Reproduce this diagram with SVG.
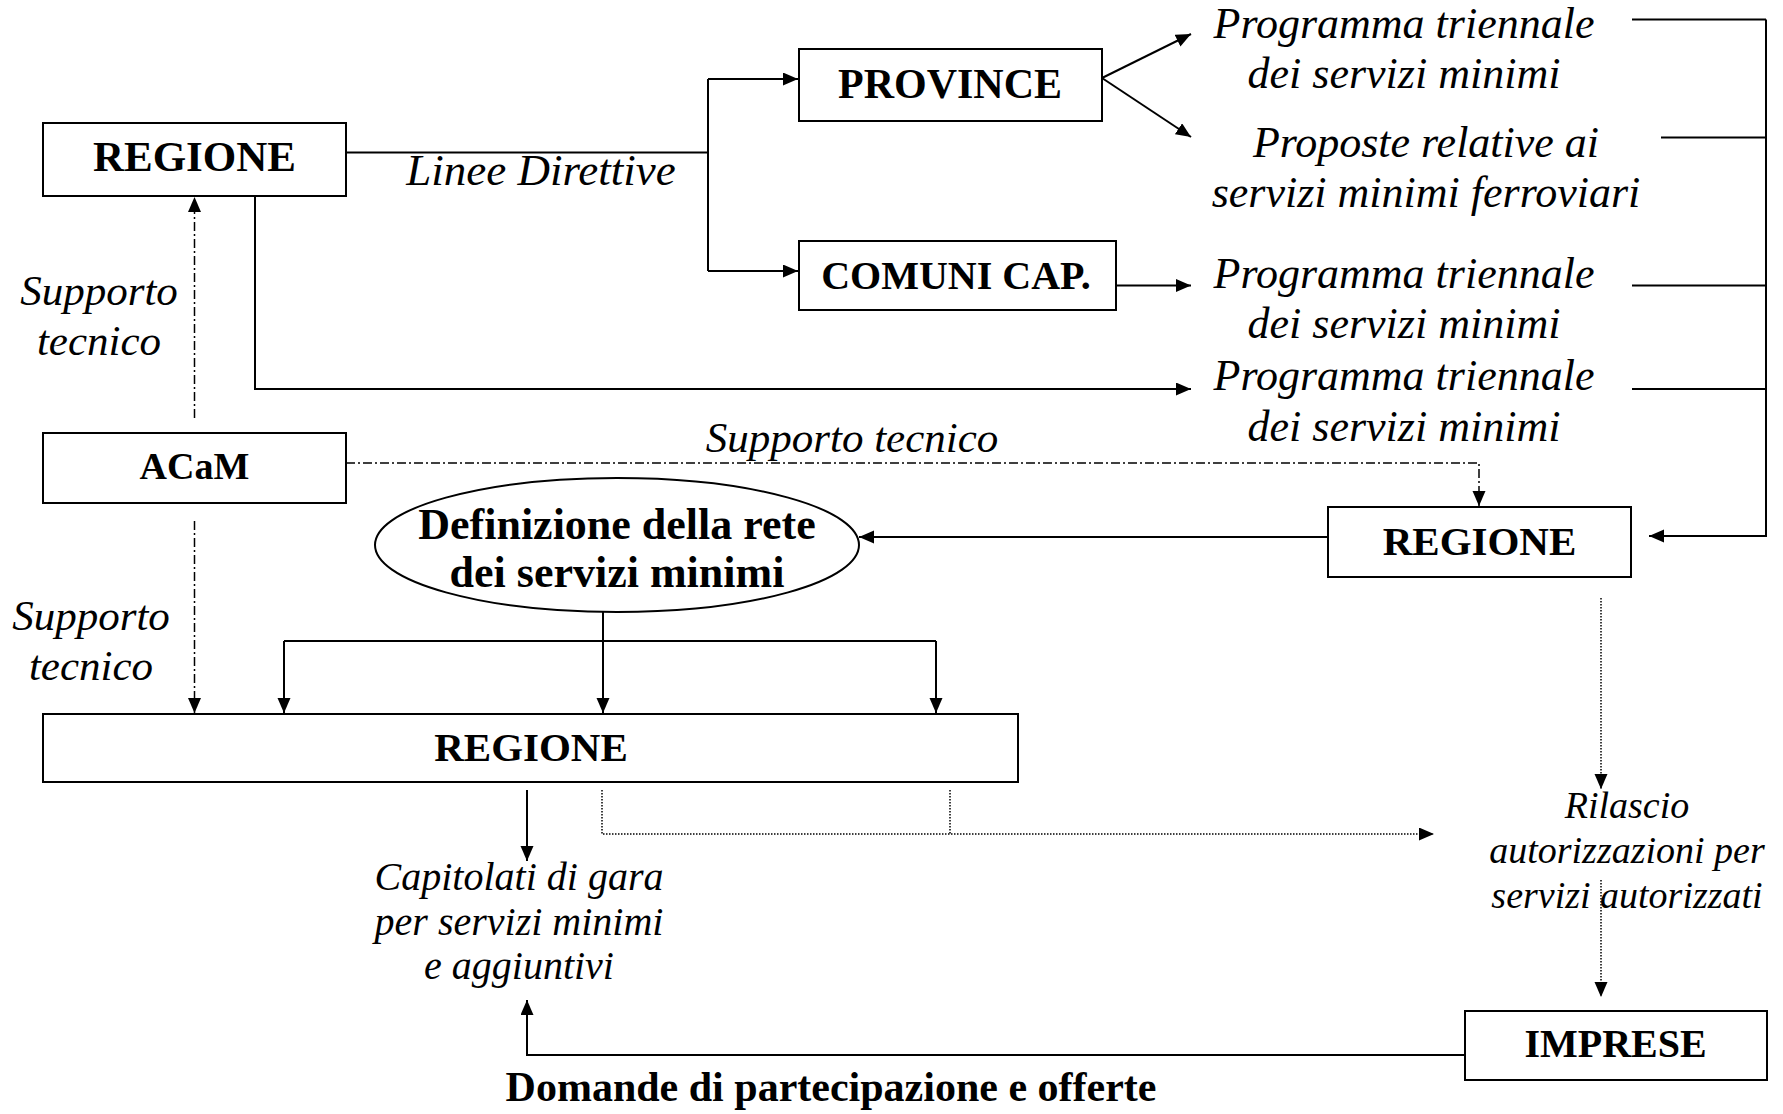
<svg xmlns="http://www.w3.org/2000/svg" width="1783" height="1114" viewBox="0 0 1783 1114">
<style>
  .box { fill: #fff; stroke: #000; stroke-width: 2; }
  .b { font-family: "Liberation Serif", "Times New Roman", serif; font-weight: bold; text-anchor: middle; fill: #000; }
  .i { font-family: "Liberation Serif", "Times New Roman", serif; font-style: italic; text-anchor: middle; fill: #000; }
  .ln { fill: none; stroke: #000; stroke-width: 2; }
  .dd { fill: none; stroke: #000; stroke-width: 1.5; stroke-dasharray: 9 3 2 3; }
  .dt { fill: none; stroke: #000; stroke-width: 1.5; stroke-dasharray: 1.5 1.5; }
</style>
<defs>
  <marker id="ah" markerUnits="userSpaceOnUse" markerWidth="16" markerHeight="14" refX="15" refY="6.5" orient="auto">
    <path d="M0,0 L15,6.5 L0,13 z" fill="#000"/>
  </marker>
</defs>
<rect width="1783" height="1114" fill="#fff"/>

<g id="connectors">
  <path class="ln" d="M346,152.5 H708 M708,79 V271"/>
  <path class="ln" d="M708,79 H798" marker-end="url(#ah)"/>
  <path class="ln" d="M708,271 H798" marker-end="url(#ah)"/>
  <path class="ln" d="M1102,78 L1191,34" marker-end="url(#ah)"/>
  <path class="ln" d="M1102,78 L1191,137" marker-end="url(#ah)"/>
  <path class="ln" d="M1116,285.5 H1191" marker-end="url(#ah)"/>
  <path class="ln" d="M255,196 V389 H1191" marker-end="url(#ah)"/>
  <path class="ln" d="M1632,19.5 H1766 M1661,137.5 H1766 M1632,285.5 H1766 M1632,389 H1766"/>
  <path class="ln" d="M1766,19.5 V536 H1649" marker-end="url(#ah)"/>
  <path class="ln" d="M1328,537 H859" marker-end="url(#ah)"/>
  <path class="dd" d="M194.5,418 V197" marker-end="url(#ah)"/>
  <path class="dd" d="M346,463 H1479 V506" marker-end="url(#ah)"/>
  <path class="dd" d="M194.5,521 V713" marker-end="url(#ah)"/>
  <path class="ln" d="M603,612 V713" marker-end="url(#ah)"/>
  <path class="ln" d="M284,641 H936"/>
  <path class="ln" d="M284,641 V713" marker-end="url(#ah)"/>
  <path class="ln" d="M936,641 V713" marker-end="url(#ah)"/>
  <path class="ln" d="M527,790 V861" marker-end="url(#ah)"/>
  <path class="dt" d="M602,790 V834 H1434" marker-end="url(#ah)"/>
  <path class="dt" d="M950,790 V834"/>
  <path class="dt" d="M1601,598 V789" marker-end="url(#ah)"/>
  <path class="dt" d="M1601,880 V997" marker-end="url(#ah)"/>
  <path class="ln" d="M1465,1055 H527 V1000" marker-end="url(#ah)"/>
</g>

<g id="regione-top">
  <rect class="box" x="43" y="123" width="303" height="73"/>
  <text class="b" x="194.5" y="171" font-size="43">REGIONE</text>
</g>
<g id="province">
  <rect class="box" x="799" y="49" width="303" height="72"/>
  <text class="b" x="950" y="98" font-size="42">PROVINCE</text>
</g>
<g id="comuni">
  <rect class="box" x="799" y="241" width="317" height="69"/>
  <text class="b" x="956" y="289" font-size="40">COMUNI CAP.</text>
</g>
<g id="acam">
  <rect class="box" x="43" y="433" width="303" height="70"/>
  <text class="b" x="194.5" y="479" font-size="38">ACaM</text>
</g>
<g id="regione-right">
  <rect class="box" x="1328" y="507" width="303" height="70"/>
  <text class="b" x="1479.5" y="555" font-size="41">REGIONE</text>
</g>
<g id="definizione">
  <ellipse class="box" cx="617" cy="545" rx="242" ry="67"/>
  <text class="b" x="617" y="539" font-size="44">Definizione della rete</text>
  <text class="b" x="617" y="587" font-size="44">dei servizi minimi</text>
</g>
<g id="regione-bottom">
  <rect class="box" x="43" y="714" width="975" height="68"/>
  <text class="b" x="531" y="761" font-size="41">REGIONE</text>
</g>
<g id="imprese">
  <rect class="box" x="1465" y="1011" width="302" height="69"/>
  <text class="b" x="1615.5" y="1057" font-size="40">IMPRESE</text>
</g>

<g id="labels">
  <text class="i" x="541" y="185" font-size="45">Linee Direttive</text>
  <text class="i" x="1404" y="37.5" font-size="44">Programma triennale</text>
  <text class="i" x="1404" y="87.5" font-size="44">dei servizi minimi</text>
  <text class="i" x="1426" y="157" font-size="44">Proposte relative ai</text>
  <text class="i" x="1426" y="207" font-size="44">servizi minimi ferroviari</text>
  <text class="i" x="1404" y="288" font-size="44">Programma triennale</text>
  <text class="i" x="1404" y="338" font-size="44">dei servizi minimi</text>
  <text class="i" x="1404" y="390" font-size="44">Programma triennale</text>
  <text class="i" x="1404" y="441" font-size="44">dei servizi minimi</text>
  <text class="i" x="99" y="305" font-size="43">Supporto</text>
  <text class="i" x="99" y="355" font-size="43">tecnico</text>
  <text class="i" x="852" y="452" font-size="43">Supporto tecnico</text>
  <text class="i" x="91" y="630" font-size="43">Supporto</text>
  <text class="i" x="91" y="680" font-size="43">tecnico</text>
  <text class="i" x="519" y="890" font-size="40">Capitolati di gara</text>
  <text class="i" x="519" y="935" font-size="40">per servizi minimi</text>
  <text class="i" x="519" y="979" font-size="40">e aggiuntivi</text>
  <text class="i" x="1627" y="818" font-size="38">Rilascio</text>
  <text class="i" x="1627" y="863" font-size="38">autorizzazioni per</text>
  <text class="i" x="1627" y="908" font-size="38">servizi autorizzati</text>
  <text class="b" x="831" y="1101" font-size="42">Domande di partecipazione e offerte</text>
</g>
</svg>
